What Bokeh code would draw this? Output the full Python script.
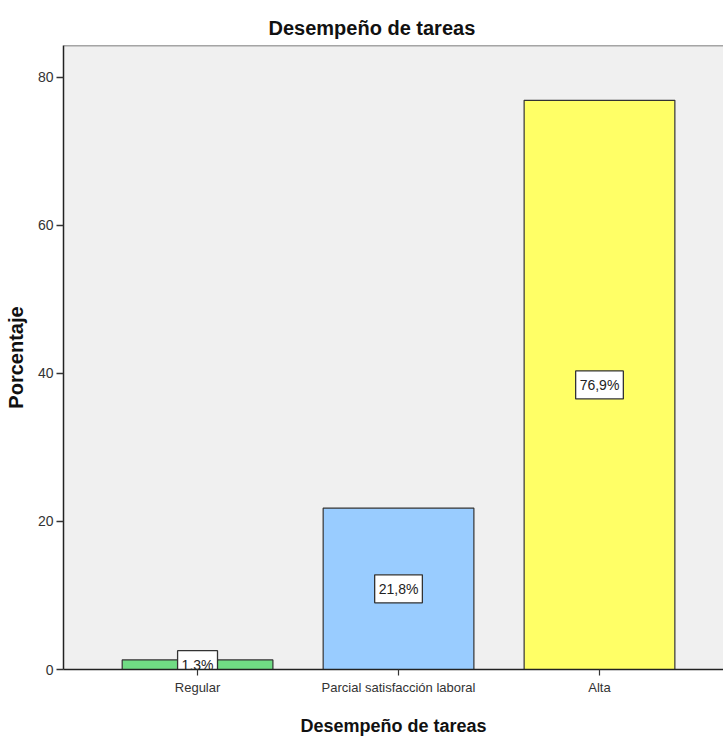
from bokeh.plotting import figure
from bokeh.models import ColumnDataSource, Range1d, FixedTicker, Span
from bokeh.core.properties import value
from bokeh.embed import file_html
from bokeh.resources import INLINE

# Frequency distribution of task performance (percentages)
categories = ["Regular", "Parcial satisfacción laboral", "Alta"]
percentages = [1.3, 21.8, 76.9]
bar_colors = ["#70dc84", "#99ccff", "#ffff66"]
y_ticks = [0, 20, 40, 60, 80]

positions = list(range(len(categories)))
labels = [f"{v:.1f}%".replace(".", ",") for v in percentages]

source = ColumnDataSource(dict(
    x=positions,
    top=percentages,
    mid=[v / 2 for v in percentages],
    color=bar_colors,
    label=labels,
))

FONT = "Liberation Sans"
Y_END = 84.3
p = figure(
    width=723, height=740,
    frame_width=660, frame_height=624,
    min_border_left=63, min_border_right=0,
    min_border_top=45, min_border_bottom=71,
    x_range=Range1d(-0.667, 2.617), y_range=Range1d(0, Y_END),
    output_backend="svg", toolbar_location=None,
    title="Desempeño de tareas",
)

p.background_fill_color = "#f0f0f0"
p.border_fill_color = "white"
p.outline_line_color = None
p.grid.visible = False

p.title.align = "left"
p.title.offset = 205
p.title.standoff = 13
p.title.text_font = FONT
p.title.text_font_size = "20px"
p.title.text_font_style = "bold"
p.title.text_color = "#111111"

p.vbar(x="x", top="top", width=0.75, bottom=0, source=source,
       fill_color="color", line_color="#333333", line_width=1.2)

# boxed percentage labels at half the bar height
p.text(x="x", y="mid", text="label", source=source,
       text_align="center", text_baseline="middle",
       text_font=value(FONT), text_font_size="14px", text_color="#222222",
       background_fill_color="white", border_line_color="#333333", border_line_width=1.3,
       padding=(4, 6))

# top edge of the frame
p.add_layout(Span(location=Y_END, dimension="width", line_color="#555555", line_width=1.5))

# x axis
xa = p.xaxis[0]
xa.ticker = FixedTicker(ticks=positions)
xa.major_label_overrides = {i: c for i, c in zip(positions, categories)}
xa.minor_tick_line_color = None
xa.major_tick_in = 0
xa.major_tick_out = 6
xa.major_tick_line_color = "#333333"
xa.major_tick_line_width = 1.2
xa.axis_line_color = "#222222"
xa.axis_line_width = 1.5
xa.major_label_text_font = FONT
xa.major_label_text_font_size = "13px"
xa.major_label_text_color = "#333333"
xa.major_label_standoff = 4
xa.axis_label = "Desempeño de tareas"
xa.axis_label_text_font = FONT
xa.axis_label_text_font_size = "18px"
xa.axis_label_text_font_style = "bold"
xa.axis_label_text_color = "#111111"
xa.axis_label_standoff = 18

# y axis
ya = p.yaxis[0]
ya.ticker = FixedTicker(ticks=y_ticks)
ya.minor_tick_line_color = None
ya.major_tick_in = 0
ya.major_tick_out = 7
ya.major_tick_line_color = "#333333"
ya.major_tick_line_width = 1.5
ya.axis_line_color = "#222222"
ya.axis_line_width = 1.5
ya.major_label_text_font = FONT
ya.major_label_text_font_size = "14px"
ya.major_label_text_color = "#333333"
ya.major_label_standoff = 3
ya.axis_label = "Porcentaje"
ya.axis_label_text_font = FONT
ya.axis_label_text_font_size = "20px"
ya.axis_label_text_font_style = "bold"
ya.axis_label_text_color = "#111111"
ya.axis_label_standoff = 8

open("out.html", "w").write(file_html(p, INLINE))
